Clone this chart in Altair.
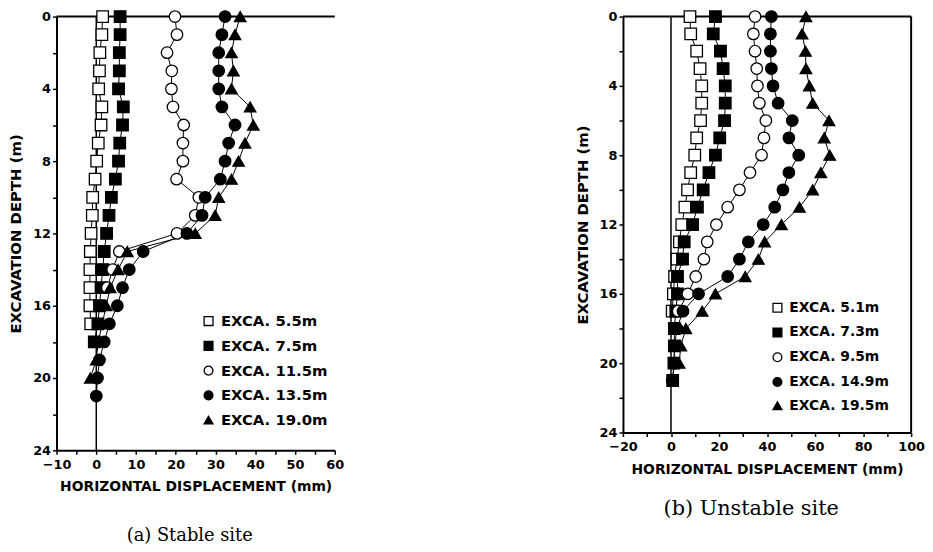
import altair as alt
import pandas as pd

# ---------------- data ----------------
depth_ticks = list(range(0, 25, 2))

stable_labels = ["EXCA. 5.5m", "EXCA. 7.5m", "EXCA. 11.5m", "EXCA. 13.5m", "EXCA. 19.0m"]
stable_5_5 = [1.6, 1.4, 0.9, 0.8, 0.6, 1.4, 1.2, 0.5, 0.1, -0.3, -0.9, -1.0, -1.3, -1.5, -1.6, -1.6, -1.6, -1.4]
stable_7_5 = [6.0, 6.0, 5.8, 5.8, 5.6, 6.8, 6.6, 5.9, 5.6, 4.8, 3.8, 3.2, 2.6, 2.0, 1.6, 1.2, 0.8, 0.4, -0.5]
stable_11_5 = [19.8, 20.3, 17.8, 19.0, 18.9, 19.3, 22.0, 21.8, 21.8, 20.2, 25.8, 24.9, 20.3, 5.8, 4.1, 2.8]
stable_13_5 = [32.4, 31.6, 30.8, 30.8, 30.8, 31.6, 34.9, 33.3, 32.4, 31.2, 27.4, 26.6, 22.8, 11.8, 8.3, 6.6,
               5.3, 3.3, 2.0, 0.8, 0.3, 0.0]
stable_19_0 = [36.2, 34.9, 34.0, 34.5, 34.0, 38.7, 39.5, 37.4, 35.8, 34.0, 30.8, 29.9, 24.9, 7.8, 5.5, 3.5,
               2.5, 1.5, 0.5, 0.0, -1.5]

unstable_labels = ["EXCA. 5.1m", "EXCA. 7.3m", "EXCA. 9.5m", "EXCA. 14.9m", "EXCA. 19.5m"]
unstable_5_1 = [7.9, 8.2, 10.7, 12.1, 12.8, 12.8, 12.3, 10.7, 9.9, 8.2, 6.9, 5.8, 4.5, 3.5, 2.5, 1.5, 1.0, 0.5]
unstable_7_3 = [18.5, 17.6, 20.6, 21.7, 22.6, 22.6, 22.3, 20.3, 18.5, 15.8, 13.4, 11.0, 9.0, 5.5, 4.8, 2.7,
                2.7, 2.0, 1.4, 1.4, 1.2, 0.7]
unstable_9_5 = [35.0, 34.3, 35.0, 35.7, 36.0, 36.8, 39.5, 38.7, 37.7, 32.9, 28.5, 23.6, 18.9, 15.1, 13.7, 10.3,
                7.0, 3.0]
unstable_14_9 = [41.8, 41.4, 41.4, 41.8, 42.5, 44.6, 50.5, 49.1, 53.2, 49.1, 46.6, 43.2, 38.4, 32.2, 28.5, 23.6,
                 11.5, 5.0, 2.5, 1.5, 1.5, 0.5]
unstable_19_5 = [56.2, 54.6, 56.0, 56.2, 57.6, 59.0, 65.8, 63.8, 66.1, 62.4, 59.0, 53.5, 46.0, 39.0, 36.4, 30.9,
                 18.5, 13.0, 6.2, 4.1, 3.4]

marker_shapes = ["square", "square", "circle", "circle", "triangle-up"]
marker_fills = ["white", "black", "white", "black", "black"]
marker_strokes = ["black", "black", "black", "black", "black"]

stable_xdomain = [-10, 60]
stable_xticks = list(range(-10, 61, 5))
unstable_xdomain = [-20, 100]
unstable_xticks = list(range(-20, 101, 10))

captions = ["(a)  Stable site", "(b)  Unstable site"]

SANS = "DejaVu Sans"
SERIF = "DejaVu Serif"


def long_df(labels, series):
    rows = []
    for lab, vals in zip(labels, series):
        for d, v in enumerate(vals):
            rows.append({"series": lab, "depth": d, "disp": v})
    return pd.DataFrame(rows)


def panel(df, labels, xdom, xticks, label_step, width, height, caption, cap_size, cap_dx, cap_offset,
          leg_x, leg_y, leg_font, right_border):
    xscale = alt.Scale(domain=xdom, nice=False, zero=False)
    yscale = alt.Scale(domain=[0, 24], reverse=True, nice=False, zero=False)
    xaxis = alt.Axis(values=xticks,
                     labelExpr=f"datum.value % {label_step} === 0 ? datum.label : ''",
                     title="HORIZONTAL DISPLACEMENT (mm)", grid=False, labelFlush=False)
    yaxis = alt.Axis(values=depth_ticks,
                     labelExpr="datum.value % 4 === 0 ? datum.label : ''",
                     title="EXCAVATION DEPTH (m)", grid=False, labelFlush=False)
    x = alt.X("disp:Q", scale=xscale, axis=xaxis)
    y = alt.Y("depth:Q", scale=yscale, axis=yaxis)

    legend = alt.Legend(orient="none", legendX=leg_x, legendY=leg_y, title=None,
                        labelFont=SANS, labelFontSize=leg_font, labelFontWeight="bold",
                        labelColor="black", symbolSize=80, symbolStrokeColor="black",
                        symbolStrokeWidth=1.3, rowPadding=9, labelOffset=5, padding=0)

    zero_line = alt.Chart(pd.DataFrame({"disp": [0]})).mark_rule(
        color="black", strokeWidth=1.5).encode(x=alt.X("disp:Q", scale=xscale, axis=xaxis))
    top_line = alt.Chart(pd.DataFrame({"depth": [0]})).mark_rule(
        color="black", strokeWidth=2).encode(y=alt.Y("depth:Q", scale=yscale, axis=yaxis))

    lines = alt.Chart(df).mark_line(color="black", strokeWidth=1).encode(
        x=x, y=y, detail="series:N", order="depth:Q")
    pts = alt.Chart(df).mark_point(filled=False, strokeWidth=1.3, size=135, opacity=1).encode(
        x=x, y=y,
        shape=alt.Shape("series:N", scale=alt.Scale(domain=labels, range=marker_shapes), legend=legend),
        fill=alt.Fill("series:N", scale=alt.Scale(domain=labels, range=marker_fills), legend=legend),
        stroke=alt.Stroke("series:N", scale=alt.Scale(domain=labels, range=marker_strokes), legend=legend),
    )
    layers = [zero_line, top_line, lines, pts]
    if right_border:
        right_line = alt.Chart(pd.DataFrame({"disp": [xdom[1]]})).mark_rule(
            color="black", strokeWidth=2).encode(x=alt.X("disp:Q", scale=xscale, axis=xaxis))
        layers.append(right_line)
    return alt.layer(*layers).properties(
        width=width, height=height,
        title=alt.TitleParams(caption, orient="bottom", font=SERIF, fontSize=cap_size,
                              fontWeight="normal", color="black", dx=cap_dx, offset=cap_offset,
                              anchor="middle"),
    )


stable_df = long_df(stable_labels, [stable_5_5, stable_7_5, stable_11_5, stable_13_5, stable_19_0])
unstable_df = long_df(unstable_labels, [unstable_5_1, unstable_7_3, unstable_9_5, unstable_14_9, unstable_19_5])

left = panel(stable_df, stable_labels, stable_xdomain, stable_xticks, 10, 281, 438,
             captions[0], 18, -6, 34, 146, 300, 15, False)
right = panel(unstable_df, unstable_labels, unstable_xdomain, unstable_xticks, 20, 291, 420,
              captions[1], 21, -16, 22, 149, 287, 14, True)

chart = alt.hconcat(left, right, spacing=232).resolve_scale(
    shape="independent", fill="independent", stroke="independent",
    x="independent", y="independent"
).resolve_legend(
    shape="independent", fill="independent", stroke="independent"
).properties(padding={"top": -3, "left": 0, "right": 0, "bottom": 0}).configure_view(
    stroke=None
).configure_axis(
    domainColor="black", domainWidth=2, tickColor="black", tickSize=4, tickWidth=1.5,
    labelFont=SANS, labelFontSize=13, labelFontWeight="bold", labelColor="black", labelPadding=2,
    titleFont=SANS, titleFontSize=14, titleFontWeight="bold", titleColor="black", titlePadding=6,
).configure_axisX(labelPadding=4, titlePadding=9).configure_axisY(titlePadding=9, titleFontSize=15)

chart.save("out.html", embed_options={"renderer": "svg", "actions": False})
